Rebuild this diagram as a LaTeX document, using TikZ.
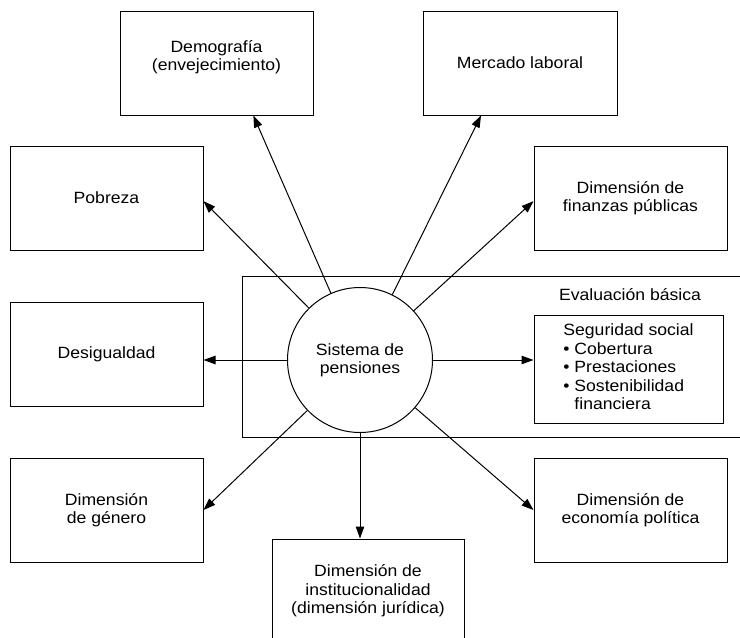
\documentclass[tikz,border=0pt]{standalone}
\usepackage{fontspec}
\setmainfont{Liberation Sans}[FakeStretch=1.08]
\usetikzlibrary{arrows.meta,calc}

\tikzset{
  box/.style={draw, line width=1pt, rectangle, align=center, inner sep=0pt},
  hub/.style={draw, line width=1pt, circle, fill=white, minimum size=145pt, inner sep=0pt, align=center},
  frame/.style={draw, line width=1pt},
  arr/.style={line width=1pt, -{Triangle[length=12pt,width=8.5pt]}}
}

\begin{document}
\begin{tikzpicture}[x=1pt, y=-1pt, font=\fontsize{16.3}{18.4}\selectfont]
  \useasboundingbox (0,0) rectangle (740,638);
  \clip (0,0) rectangle (740,638);

  % Evaluación básica frame (runs off the right edge)
  \draw[frame] (760,276) -- (242,276) -- (242,437) -- (760,437);
  \node (evtitle) at (630,295) {Evaluación básica};

  % Outer boxes
  \node[box, minimum width=193pt, minimum height=104pt, text depth=15pt] (dem) at (216.5,63) {Demografía\\(envejecimiento)};
  \node[box, minimum width=194pt, minimum height=104pt] (mer) at (520,63) {Mercado laboral};
  \node[box, minimum width=193pt, minimum height=104pt] (pob) at (106.5,198) {Pobreza};
  \node[box, minimum width=193pt, minimum height=104pt] (fin) at (630.5,198) {Dimensión de\\finanzas públicas};
  \node[box, minimum width=193pt, minimum height=104pt] (des) at (106.5,354) {Desigualdad};
  \node[box, minimum width=189pt, minimum height=108pt] (seg) at (628.5,369)
    {\begin{tabular}{@{}l@{}}Seguridad social\\• Cobertura\\• Prestaciones\\• Sostenibilidad\\\phantom{• }financiera\end{tabular}};
  \node[box, minimum width=193pt, minimum height=104pt] (gen) at (106.5,510) {Dimensión\\de género};
  \node[box, minimum width=193pt, minimum height=104pt] (eco) at (630.5,510) {Dimensión de\\economía política};
  \node[box, minimum width=192pt, minimum height=104pt] (ins) at (368,591) {Dimensión de\\institucionalidad\\(dimensión jurídica)};

  % Central hub
  \node[hub] (c) at (360,360) {Sistema de\\pensiones};

  % Connectors
  \draw[arr] (c) -- ($(dem.south west)!0.69!(dem.south east)$);
  \draw[arr] (c) -- ($(mer.south west)!0.30!(mer.south east)$);
  \draw[arr] (c) -- ($(pob.north east)!0.53!(pob.south east)$);
  \draw[arr] (c) -- ($(fin.north west)!0.53!(fin.south west)$);
  \draw[arr] (c.west) -- (c.west -| des.east);
  \draw[arr] (c.east) -- (c.east -| seg.west);
  \draw[arr] (c) -- (gen.east);
  \draw[arr] (c) -- (eco.west);
  \draw[arr] (c.south) -- (c.south |- ins.north);
\end{tikzpicture}
\end{document}
